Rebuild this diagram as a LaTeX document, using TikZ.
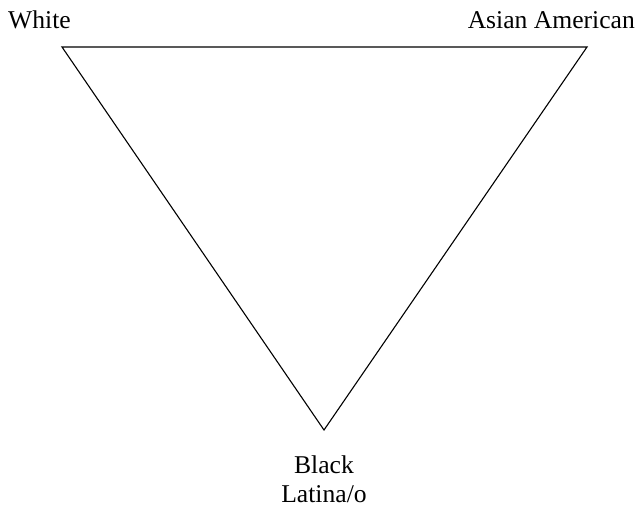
\documentclass[tikz,border=0pt]{standalone}
\usepackage{fontspec}
\setmainfont{Liberation Serif}
\begin{document}
\begin{tikzpicture}[x=1pt,y=-1pt,
  lbl/.style={font=\fontsize{25.6}{29}\selectfont, inner sep=0pt},
  edge/.style={draw=black, line width=1.1pt, line join=miter}]
\useasboundingbox (0,0) rectangle (639,508);
\coordinate (w) at (62,47);
\coordinate (a) at (587,47);
\coordinate (b) at (324,430);
\draw[edge] (w) -- (a) -- (b) -- cycle;
\node[lbl, anchor=base west] (tw) at (8,29) {White};
\node[lbl, anchor=base east] (ta) at (635,29) {Asian American};
\node[lbl, anchor=base, align=center] (tb) at (324,502) {Black\\Latina/o};
\end{tikzpicture}
\end{document}
